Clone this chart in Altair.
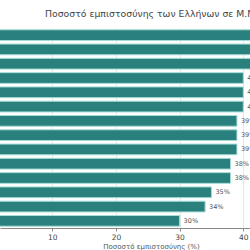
import altair as alt
import pandas as pd

categories = ["Μέσο 1", "Μέσο 2", "Μέσο 3", "Μέσο 4", "Μέσο 5", "Μέσο 6", "Μέσο 7",
              "Μέσο 8", "Μέσο 9", "Μέσο 10", "Μέσο 11", "Μέσο 12", "Μέσο 13", "Μέσο 14"]
values = [47, 45, 43, 40, 40, 40, 39, 39, 39, 38, 38, 35, 34, 30]
labels = [f"{v}%" for v in values]

df = pd.DataFrame({"media": categories, "value": values, "label": labels})

FONT = "DejaVu Sans"
y_enc = alt.Y("media:N", sort=categories, title=None,
              scale=alt.Scale(paddingInner=0.25, paddingOuter=0.125),
              axis=alt.Axis(labels=False, ticks=False, domain=False, grid=False))
x_scale = alt.Scale(domain=[1.8, 41.05], nice=False, zero=False)

bars = alt.Chart(df).mark_bar(color="#2a807c", stroke="#a6dcd8", strokeWidth=1, clip=True).encode(
    x=alt.X("value:Q", scale=x_scale, title="Ποσοστό εμπιστοσύνης (%)",
            axis=alt.Axis(values=[10, 20, 30, 40], grid=True, gridColor="#e6e6e6",
                          tickSize=3, labelPadding=2, labelFontSize=7.5, labelColor="#444",
                          titleFontSize=7, titleColor="#555", titleFontWeight="normal",
                          titlePadding=2, titleX=151, domainColor="#888", tickColor="#888",
                          labelFont=FONT, titleFont=FONT)),
    x2=alt.datum(0),
    y=y_enc,
)

text = alt.Chart(df).mark_text(align="left", baseline="middle", dx=4, fontSize=6.5,
                               color="#555", font=FONT, clip=True).encode(
    x=alt.X("value:Q", scale=x_scale),
    y=y_enc,
    text="label:N",
)

chart = alt.layer(bars, text).properties(
    width=250, height=200,
    title=alt.TitleParams("Ποσοστό εμπιστοσύνης των Ελλήνων σε Μ.Μ.Ε.", anchor="start",
                          dx=45, fontSize=9.3, font=FONT, color="#444",
                          fontWeight="normal", offset=9),
    autosize=alt.AutoSizeParams(type="none"),
    padding={"left": 0, "top": 28, "right": 0, "bottom": 22},
).configure_view(stroke=None)

chart.save("out.html", embed_options={"renderer": "svg", "actions": False})
